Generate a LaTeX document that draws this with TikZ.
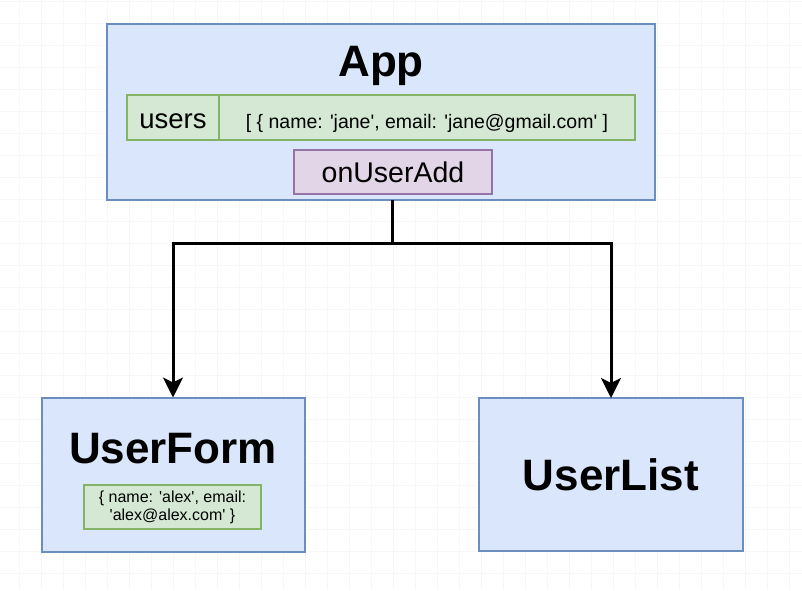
\documentclass[tikz,border=0pt]{standalone}
\usepackage{fontspec}
\setmainfont{Liberation Sans}
\usetikzlibrary{arrows.meta,positioning}

\definecolor{compFill}{HTML}{DAE6FB}
\definecolor{compLine}{HTML}{6C8EBF}
\definecolor{stateFill}{HTML}{D5E8D4}
\definecolor{stateLine}{HTML}{82B366}
\definecolor{propFill}{HTML}{E1D5E7}
\definecolor{propLine}{HTML}{9673A6}

\newcommand{\sq}{\textquotesingle}

\begin{document}
\begin{tikzpicture}
      [
        x=1pt, y=-1pt,
        %  -{Stealth[length = 2.5pt]},
        GridLine/.style={black!3, line width=0.6pt},
        Comp/.style={draw=compLine, fill=compFill, line width=2pt, inner sep=0pt, outer sep=0pt},
        CompName/.style={font=\fontsize{44}{44}\selectfont\bfseries},
        StateBlock/.style={draw=stateLine, fill=stateFill, line width=2pt, inner sep=0pt, outer sep=0pt, minimum height=45pt, text height=21pt, text depth=0pt},
        PropBlock/.style={draw=propLine, fill=propFill, line width=2pt, inner sep=0pt, outer sep=0pt, minimum height=44pt, text height=20pt, text depth=0pt},
        Wire/.style={line width=3pt},
        Tip/.style={-{Stealth[length=20pt, width=20pt, inset=5pt]}},
      ]

      \useasboundingbox (0,0) rectangle (802,590);
      \foreach \gx in {19,41,...,801} \draw [GridLine] (\gx,0) -- (\gx,590);
      \foreach \gy in {1,23,...,589} \draw [GridLine] (0,\gy) -- (802,\gy);

      % parent component
      \node [Comp, minimum width=548pt, minimum height=176pt] (App) at (381,112) {};
      \node [CompName, anchor=base] (appName) at (381,76) {App};
      \node [StateBlock, minimum width=92pt, font=\fontsize{27.5}{27.5}\selectfont] (users) at (173,117.5) {users};
      \node [StateBlock, minimum width=416pt, right=0pt of users, font=\fontsize{19.5}{19.5}\selectfont] (usersVal) {[ \{ name: \sq jane\sq, email: \sq jane@gmail.com\sq\ ]};
      \node [PropBlock, minimum width=198pt, font=\fontsize{28.5}{28.5}\selectfont] (onUserAdd) at (393,172) {onUserAdd};

      % children
      \node [Comp, minimum width=263pt, minimum height=154pt] (UserForm) at (173,474.5) {};
      \node [CompName, anchor=base] (formName) at (173,463) {UserForm};
      \node [StateBlock, minimum width=177pt, minimum height=44pt, text height=, text depth=, align=center, font=\fontsize{16}{18}\selectfont] (newUser) at (172.5,507) {\{ name: \sq alex\sq, email:\\\sq alex@alex.com\sq\ \}};
      \node [Comp, CompName, minimum width=264pt, minimum height=153pt] (UserList) at (611,474.5) {UserList};

      \coordinate (split) at (392,243);
      \draw [Wire] (App.south -| split) -- (split);
      \draw [Wire, Tip] (split) -| (UserForm.north);
      \draw [Wire, Tip] (split) -| (UserList.north);
    \end{tikzpicture}
\end{document}
